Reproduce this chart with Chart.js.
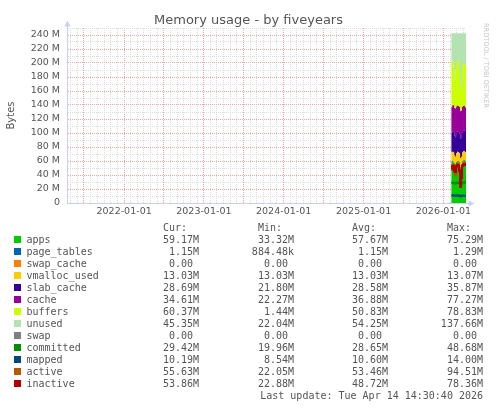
<!DOCTYPE html>
<html>
<head>
<meta charset="utf-8">
<title>Memory usage - by fiveyears</title>
<script src="https://cdn.jsdelivr.net/npm/chart.js@4/dist/chart.umd.min.js"></script>
<style>
  html, body { margin: 0; padding: 0; background: #ffffff; }
  canvas { display: block; }
</style>
</head>
<body>
<canvas id="mem" width="497" height="408"></canvas>
<script>
// Sample timestamps (UTC) of the consolidated rows that hold data
const sampleTimes = [
  '2026-02-06T00:00:00Z', '2026-02-10T12:00:00Z', '2026-02-15T00:00:00Z', '2026-02-19T12:00:00Z',
  '2026-02-24T00:00:00Z', '2026-02-28T12:00:00Z', '2026-03-05T00:00:00Z', '2026-03-09T12:00:00Z',
  '2026-03-14T00:00:00Z', '2026-03-18T12:00:00Z', '2026-03-23T00:00:00Z', '2026-03-27T12:00:00Z',
  '2026-04-01T00:00:00Z', '2026-04-05T12:00:00Z', '2026-04-10T00:00:00Z', '2026-04-14T14:30:40Z'
];
const graphEnd = '2026-04-14T14:30:40Z';
const graphSpanDays = 1826;

// Stacked memory areas, in M
const apps        = [58.5, 59.2, 57.8, 53.5, 52.0, 57.4, 59.0, 58.3, 56.9, 50.2, 51.8, 58.1, 59.6, 60.2, 58.8, 59.17];
const pageTables  = [1.18, 1.16, 1.15, 1.14, 1.13, 1.15, 1.16, 1.15, 1.15, 1.12, 1.14, 1.16, 1.17, 1.16, 1.15, 1.15];
const swapCache   = [0, 0, 0, 0, 0, 0, 0, 0, 0, 0, 0, 0, 0, 0, 0, 0];
const vmallocUsed = [13.03, 13.03, 13.03, 13.05, 13.07, 13.03, 13.03, 13.03, 13.03, 13.04, 13.03, 13.03, 13.03, 13.03, 13.03, 13.03];
const slabCache   = [28.1, 28.9, 29.4, 28.6, 27.9, 28.3, 29.1, 28.8, 28.2, 27.6, 28.0, 28.7, 29.3, 28.9, 28.5, 28.69];
const cache       = [36.2, 37.5, 38.4, 39.6, 40.8, 37.9, 36.5, 37.2, 38.0, 39.1, 38.3, 36.4, 35.6, 35.2, 34.9, 34.61];
const buffers     = [67.0, 63.2, 56.2, 40.1, 55.1, 63.2, 65.2, 64.5, 52.7, 29.9, 37.7, 58.6, 61.3, 60.1, 60.6, 60.37];
const unused      = [38.4, 39.4, 46.4, 66.4, 52.4, 41.4, 38.4, 39.4, 52.4, 81.4, 72.4, 46.4, 42.4, 43.8, 45.4, 45.35];
const swap        = [0, 0, 0, 0, 0, 0, 0, 0, 0, 0, 0, 0, 0, 0, 0, 0];

// Overlay lines, in M
const committed = [28.9, 29.3, 28.7, 27.8, 28.2, 29.0, 29.4, 28.6, 28.1, 26.9, 27.5, 28.8, 29.1, 29.6, 29.2, 29.42];
const mapped    = [10.8, 10.6, 10.9, 10.4, 10.2, 10.7, 11.0, 10.5, 10.3, 9.8, 10.1, 10.6, 10.4, 10.3, 10.2, 10.19];
const active    = [54.8, 50.2, 55.1, 47.5, 39.8, 53.9, 56.2, 55.0, 48.6, 24.5, 38.0, 54.4, 56.8, 57.5, 56.0, 55.63];
const inactive  = [52.6, 48.0, 53.2, 45.0, 44.1, 52.3, 54.5, 53.1, 46.0, 22.9, 35.2, 52.7, 54.9, 55.2, 54.3, 53.86];

// Legend table
const seriesNames  = ['apps', 'page_tables', 'swap_cache', 'vmalloc_used', 'slab_cache', 'cache', 'buffers',
                      'unused', 'swap', 'committed', 'mapped', 'active', 'inactive'];
const seriesColors = ['#00cc00', '#0066b3', '#ff8000', '#ffcc00', '#330099', '#990099', '#ccff00',
                      '#b3e3b0', '#808080', '#008f00', '#00487d', '#b35a00', '#b30000'];
const curValues = ['59.17M', '1.15M', '0.00', '13.03M', '28.69M', '34.61M', '60.37M', '45.35M', '0.00', '29.42M', '10.19M', '55.63M', '53.86M'];
const minValues = ['33.32M', '884.48k', '0.00', '13.03M', '21.80M', '22.27M', '1.44M', '22.04M', '0.00', '19.96M', '8.54M', '22.05M', '22.88M'];
const avgValues = ['57.67M', '1.15M', '0.00', '13.03M', '28.58M', '36.88M', '50.83M', '54.25M', '0.00', '28.65M', '10.60M', '53.46M', '48.72M'];
const maxValues = ['75.29M', '1.29M', '0.00', '13.07M', '35.87M', '77.27M', '78.83M', '137.66M', '0.00', '48.68M', '14.00M', '94.51M', '78.36M'];
const columnHeaders = ['Cur:', 'Min:', 'Avg:', 'Max:'];

// Axis text
const yearTickLabels = ['2022-01-01', '2023-01-01', '2024-01-01', '2025-01-01', '2026-01-01'];
const yMaxM = 250;
const yStepM = 10;
const yLabelStepM = 20;
const chartTitle = 'Memory usage - by fiveyears';
const yAxisTitle = 'Bytes';
const watermark = 'RRDTOOL / TOBI OETIKER';
const lastUpdate = 'Last update: Tue Apr 14 14:30:40 2026';

// ---- styling ----
const FONT = 'DejaVu Sans';
const MONO = 'DejaVu Sans Mono';
const TEXT = '#555555';
const AXIS = '#c8d0f6';
const GRID_MINOR = '#dcdcdc';
const GRID_MAJOR = '#eaa8a8';

const xMs = sampleTimes.map(t => Date.parse(t));
const xMax = Date.parse(graphEnd);
const xMin = xMax - graphSpanDays * 86400000;
const pts = arr => arr.map((v, i) => ({ x: xMs[i], y: v }));

const stackSeries = [apps, pageTables, swapCache, vmallocUsed, slabCache, cache, buffers, unused, swap];
const lineSeries = [committed, mapped, active, inactive];

const datasets = [];
stackSeries.forEach((arr, i) => {
  datasets.push({
    label: seriesNames[i],
    data: pts(arr),
    stack: 'memory',
    fill: i === 0 ? 'origin' : '-1',
    backgroundColor: seriesColors[i],
    borderColor: seriesColors[i],
    borderWidth: 0,
    pointRadius: 0,
    stepped: 'before',
    order: 20
  });
});
lineSeries.forEach((arr, j) => {
  const k = stackSeries.length + j;
  datasets.push({
    label: seriesNames[k],
    data: pts(arr),
    stack: seriesNames[k],
    fill: false,
    borderColor: seriesColors[k],
    backgroundColor: seriesColors[k],
    borderWidth: 2,
    pointRadius: 0,
    stepped: 'before',
    order: lineSeries.length - j
  });
});

// Monthly minor grid, half-yearly major grid, yearly labels
function monthTicks() {
  const out = [];
  const y0 = new Date(xMin).getUTCFullYear();
  const y1 = new Date(xMax).getUTCFullYear();
  for (let y = y0; y <= y1; y++) {
    for (let m = 0; m < 12; m++) {
      const t = Date.UTC(y, m, 1);
      if (t >= xMin && t <= xMax) out.push({ value: t });
    }
  }
  return out;
}
function yTicks() {
  const out = [];
  for (let v = 0; v <= yMaxM; v += yStepM) out.push({ value: v });
  return out;
}

const decorations = {
  id: 'decorations',
  afterDraw(chart) {
    const ctx = chart.ctx;
    const area = chart.chartArea;
    ctx.save();

    // title
    ctx.fillStyle = TEXT;
    ctx.font = `13px "${FONT}"`;
    ctx.textAlign = 'center';
    ctx.textBaseline = 'alphabetic';
    ctx.fillText(chartTitle, 248.5, 23.5);

    // vertical watermark
    ctx.save();
    ctx.translate(484, 23);
    ctx.rotate(Math.PI / 2);
    ctx.fillStyle = '#c4c4c4';
    ctx.font = `6.6px "${FONT}"`;
    ctx.textAlign = 'left';
    ctx.textBaseline = 'alphabetic';
    ctx.fillText(watermark, 0, 0);
    ctx.restore();

    // axis extensions with arrow heads
    const ax = Math.round(area.left) + 0.5;
    const ay = Math.round(area.bottom) + 0.5;
    ctx.strokeStyle = AXIS;
    ctx.fillStyle = AXIS;
    ctx.lineWidth = 1;
    ctx.beginPath();
    ctx.moveTo(ax, area.top);
    ctx.lineTo(ax, 25);
    ctx.moveTo(area.right, ay);
    ctx.lineTo(469, ay);
    ctx.stroke();
    ctx.beginPath();
    ctx.moveTo(ax, 20.5);
    ctx.lineTo(ax - 3, 26.5);
    ctx.lineTo(ax + 3, 26.5);
    ctx.closePath();
    ctx.fill();
    ctx.beginPath();
    ctx.moveTo(474.5, ay);
    ctx.lineTo(468.5, ay - 3);
    ctx.lineTo(468.5, ay + 3);
    ctx.closePath();
    ctx.fill();

    // legend table
    const colEnds = [199, 294, 388, 483];
    const cols = [curValues, minValues, avgValues, maxValues];
    const rowY0 = 240, rowH = 12;
    ctx.font = `10px "${MONO}"`;
    ctx.textBaseline = 'middle';
    ctx.fillStyle = TEXT;
    ctx.textAlign = 'right';
    columnHeaders.forEach((h, c) => ctx.fillText(h + '  ', colEnds[c], 228));
    seriesNames.forEach((name, i) => {
      const y = rowY0 + i * rowH;
      ctx.fillStyle = seriesColors[i];
      ctx.fillRect(14, y - 4, 7, 7);
      ctx.fillStyle = TEXT;
      ctx.textAlign = 'left';
      ctx.fillText(name, 26.5, y);
      ctx.textAlign = 'right';
      cols.forEach((col, c) => {
        const s = col[i];
        ctx.fillText(/[0-9]$/.test(s) ? s + ' ' : s, colEnds[c], y);
      });
    });
    ctx.textAlign = 'right';
    ctx.fillText(lastUpdate, 483, 396);
    ctx.restore();
  }
};

new Chart(document.getElementById('mem'), {
  type: 'line',
  data: { datasets },
  plugins: [decorations],
  options: {
    responsive: false,
    animation: false,
    devicePixelRatio: 1,
    layout: { padding: { top: 28, right: 31, left: 0, bottom: 0 } },
    plugins: { legend: { display: false }, tooltip: { enabled: false }, title: { display: false } },
    elements: { line: { tension: 0 } },
    scales: {
      x: {
        type: 'linear',
        min: xMin,
        max: xMax,
        afterBuildTicks: s => { s.ticks = monthTicks(); },
        afterFit: s => { s.height = 205; },
        ticks: {
          autoSkip: false,
          maxRotation: 0,
          padding: 3,
          color: TEXT,
          font: { family: FONT, size: 9.5 },
          callback: v => {
            const d = new Date(v);
            if (d.getUTCMonth() !== 0) return '';
            return yearTickLabels.find(l => l.startsWith(String(d.getUTCFullYear()))) || '';
          }
        },
        grid: {
          drawTicks: false,
          lineWidth: 1,
          color: c => {
            const m = new Date(c.tick.value).getUTCMonth();
            return (m === 0 || m === 6) ? GRID_MAJOR : GRID_MINOR;
          }
        },
        border: { display: true, color: AXIS, dash: [1, 1] }
      },
      y: {
        stacked: true,
        min: 0,
        max: yMaxM,
        afterBuildTicks: s => { s.ticks = yTicks(); },
        afterFit: s => { s.width = 67; },
        ticks: {
          autoSkip: false,
          padding: 7,
          color: TEXT,
          font: { family: FONT, size: 9.5 },
          callback: v => (v % yLabelStepM !== 0 || v >= yMaxM) ? '' : (v === 0 ? '0' : v + ' M')
        },
        grid: {
          drawTicks: false,
          lineWidth: 1,
          color: c => (c.tick.value % yLabelStepM === 0) ? GRID_MAJOR : GRID_MINOR
        },
        border: { display: true, color: AXIS, dash: [1, 1] },
        title: {
          display: true,
          text: yAxisTitle,
          color: TEXT,
          font: { family: FONT, size: 10 },
          padding: { top: 5, bottom: 0 }
        }
      }
    }
  }
});
</script>
</body>
</html>
